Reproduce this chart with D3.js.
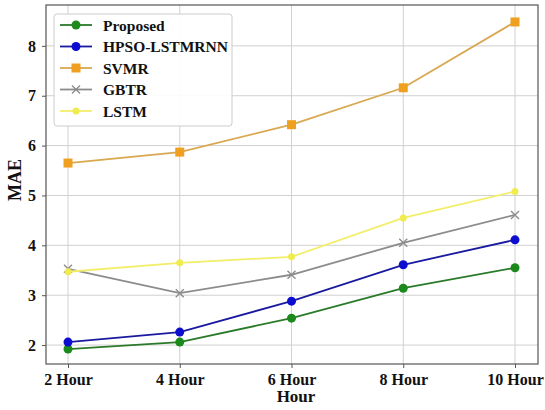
<!DOCTYPE html>
<html>
<head>
<meta charset="utf-8">
<script src="https://cdn.jsdelivr.net/npm/d3@7"></script>
<style>
  body { margin: 0; background: #fff; }
  text { font-family: "Liberation Serif", "Times New Roman", serif; font-weight: bold; }
</style>
</head>
<body>
<svg id="chart" width="545" height="410"></svg>
<script>
const hours = ["2 Hour", "4 Hour", "6 Hour", "8 Hour", "10 Hour"];
const yTicks = [2, 3, 4, 5, 6, 7, 8];

const proposed = [1.92, 2.06, 2.54, 3.14, 3.55];
const hpso = [2.06, 2.26, 2.88, 3.61, 4.11];
const svmr = [5.65, 5.87, 6.42, 7.16, 8.48];
const gbtr = [3.53, 3.04, 3.41, 4.05, 4.61];
const lstm = [3.47, 3.65, 3.77, 4.55, 5.08];

const series = [
  { name: "Proposed", values: proposed, color: "#1b8a1b", line: "#2a7a2a", marker: "circle", r: 4.5 },
  { name: "HPSO-LSTMRNN", values: hpso, color: "#0d0dd0", line: "#1a1aa0", marker: "circle", r: 4.5 },
  { name: "SVMR", values: svmr, color: "#f0a020", line: "#d9a850", marker: "square", r: 4.5 },
  { name: "GBTR", values: gbtr, color: "#8c8c8c", line: "#8c8c8c", marker: "x", r: 4 },
  { name: "LSTM", values: lstm, color: "#f0ec50", line: "#f2ee6a", marker: "circle", r: 3.5 }
];

const svg = d3.select("#chart");
const margin = { left: 46, right: 7, top: 5, bottom: 46 };
const W = 545, H = 410;

const x = d3.scalePoint().domain(hours).range([68, 515]);
const y = d3.scaleLinear().domain([1.62, 8.82]).range([H - margin.bottom, margin.top]);

// grid
const grid = svg.append("g").attr("stroke", "#d0d0d0").attr("stroke-width", 1);
grid.selectAll("line.gx").data(hours).join("line")
  .attr("x1", d => x(d)).attr("x2", d => x(d))
  .attr("y1", margin.top).attr("y2", H - margin.bottom);
grid.selectAll("line.gy").data(yTicks).join("line")
  .attr("x1", margin.left).attr("x2", W - margin.right)
  .attr("y1", d => y(d)).attr("y2", d => y(d));

// axes
const xAxis = svg.append("g")
  .attr("transform", `translate(0,${H - margin.bottom})`)
  .call(d3.axisBottom(x).tickSize(4).tickPadding(6));
const yAxis = svg.append("g")
  .attr("transform", `translate(${margin.left},0)`)
  .call(d3.axisLeft(y).tickValues(yTicks).tickFormat(d3.format("d")).tickSize(4).tickPadding(6));
[xAxis, yAxis].forEach(a => {
  a.select(".domain").remove();
  a.selectAll("line").attr("stroke", "#555");
  a.selectAll("text").attr("fill", "#111").style("font-size", "16px");
});

// frame
svg.append("rect")
  .attr("x", margin.left).attr("y", margin.top)
  .attr("width", W - margin.right - margin.left)
  .attr("height", H - margin.bottom - margin.top)
  .attr("fill", "none").attr("stroke", "#555").attr("stroke-width", 1.2);

// lines
const line = d3.line().x((d, i) => x(hours[i])).y(d => y(d));

function drawMarker(g, s) {
  if (s.marker === "circle") {
    g.append("circle").attr("r", s.r).attr("fill", s.color);
  } else if (s.marker === "square") {
    g.append("rect").attr("x", -s.r).attr("y", -s.r).attr("width", 2 * s.r).attr("height", 2 * s.r).attr("fill", s.color);
  } else {
    g.append("path").attr("d", `M-${s.r},-${s.r}L${s.r},${s.r}M-${s.r},${s.r}L${s.r},-${s.r}`)
      .attr("stroke", s.color).attr("stroke-width", 1.4);
  }
}

series.forEach(s => {
  svg.append("path").datum(s.values)
    .attr("d", line).attr("fill", "none")
    .attr("stroke", s.line).attr("stroke-width", 1.8);
  s.values.forEach((v, i) => {
    const g = svg.append("g").attr("transform", `translate(${x(hours[i])},${y(v)})`);
    drawMarker(g, s);
  });
});

// axis labels
svg.append("text").attr("x", (margin.left + W - margin.right) / 2 + 4).attr("y", 402)
  .attr("text-anchor", "middle").style("font-size", "17px").attr("fill", "#111").text("Hour");
svg.append("text").attr("transform", "translate(21,180) rotate(-90)")
  .attr("text-anchor", "middle").style("font-size", "18px").attr("fill", "#111").text("MAE");

// legend
const legend = svg.append("g");
legend.append("rect").attr("x", 54).attr("y", 14).attr("width", 178).attr("height", 112)
  .attr("rx", 3).attr("fill", "#fff").attr("fill-opacity", 0.9).attr("stroke", "#ccc");
series.forEach((s, i) => {
  const ly = 25 + i * 21.5;
  const g = legend.append("g");
  g.append("line").attr("x1", 60).attr("x2", 92).attr("y1", ly).attr("y2", ly)
    .attr("stroke", s.line).attr("stroke-width", 1.8);
  const m = g.append("g").attr("transform", `translate(76,${ly})`);
  drawMarker(m, s);
  g.append("text").attr("x", 103).attr("y", ly + 5.5).style("font-size", "15.5px")
    .attr("fill", "#111").text(s.name);
});
</script>
</body>
</html>
